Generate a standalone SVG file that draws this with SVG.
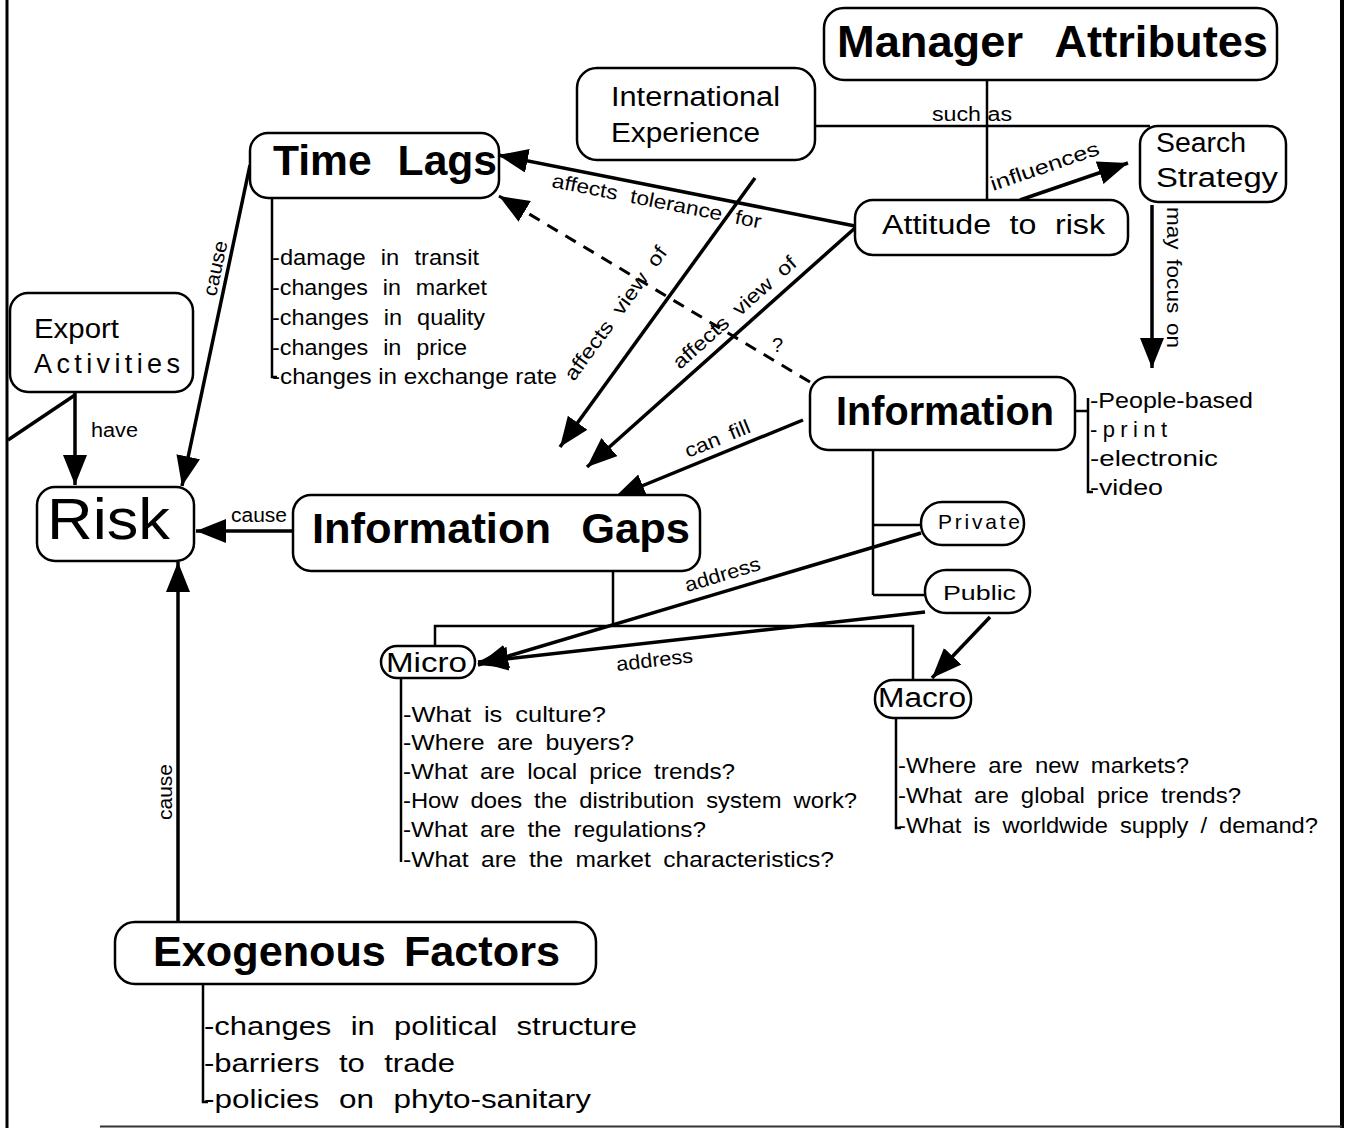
<svg xmlns="http://www.w3.org/2000/svg" width="1347" height="1128" viewBox="0 0 1347 1128">
<defs>
<marker id="ah" markerUnits="userSpaceOnUse" markerWidth="32" markerHeight="26" refX="30" refY="12" orient="auto"><path d="M0,0 L30,12 L0,24 z" fill="#000"/></marker>
<style>
.box{fill:#fff;stroke:#000;stroke-width:2.5}
.t{font-family:"Liberation Sans",Arial,sans-serif;fill:#000}
.b{font-weight:bold}
.c{fill:none;stroke:#000;stroke-width:3.5}
.a{marker-end:url(#ah)}
.l{fill:none;stroke:#000;stroke-width:2.5}
.d{stroke-dasharray:12 9;stroke-width:3}
.lab{font-size:20px}
.li{font-size:22px}
.n{font-size:27px}
.w{word-spacing:8px}
.w2{word-spacing:5px}
</style>
</defs>
<rect x="0" y="0" width="1347" height="1128" fill="#fff"/>
<g id="frame">
<line x1="7" y1="0" x2="7" y2="1128" stroke="#000" stroke-width="3"/>
<line x1="1342" y1="0" x2="1342" y2="1128" stroke="#000" stroke-width="4"/>
<line x1="100" y1="1126.5" x2="1342" y2="1126.5" stroke="#333" stroke-width="2"/>
</g>
<g id="connectors">
<path class="c a" d="M250,165 L182,486"/>
<path class="c a" d="M75,392 L75,485"/>
<path class="c" d="M75,395 L8,440"/>
<path class="c a" d="M293,531 L196,531"/>
<path class="c a" d="M178,922 L178,562"/>
<path class="c a" d="M855,226 L498,155"/>
<path class="c a d" d="M810,382 L499,196"/>
<path class="c a" d="M755,178 L560,447"/>
<path class="c a" d="M855,228 L587,467"/>
<path class="c a" d="M803,420 L615,497"/>
<path class="c a" d="M1020,200 L1128,163"/>
<path class="c a" d="M1152,205 L1152,368"/>
<path class="c a" d="M921,533 L478,665"/>
<path class="c a" d="M925,612 L478,662"/>
<path class="c a" d="M990,617 L932,678"/>
<path class="l" d="M987,80 L987,200"/>
<path class="l" d="M815,126 L1150,126"/>
<path class="l" d="M873,450 L873,595 M873,525 L921,525 M873,595 L925,595"/>
<path class="l" d="M1075,411 L1088,411 M1088,398 L1088,492 L1093,492"/>
<path class="l" d="M613,571 L613,626 M435,646 L435,626 L913,626 L913,680"/>
<path class="l" d="M272,198 L272,377 L277,377"/>
<path class="l" d="M401,678 L401,862"/>
<path class="l" d="M896,718 L896,828 L901,828"/>
<path class="l" d="M203,984 L203,1102 L208,1102"/>
<text class="t lab" x="932" y="121" textLength="80" lengthAdjust="spacingAndGlyphs">such as</text>
<text class="t lab" transform="translate(993,191) rotate(-18.9)" textLength="114" lengthAdjust="spacingAndGlyphs">influences</text>
<text class="t lab" transform="translate(551,187) rotate(11.2)" word-spacing="6" textLength="213" lengthAdjust="spacingAndGlyphs">affects tolerance for</text>
<text class="t lab" transform="translate(574,382) rotate(-54)" word-spacing="5" textLength="160" lengthAdjust="spacingAndGlyphs">affects view of</text>
<text class="t lab" transform="translate(680,370) rotate(-41.7)" word-spacing="5" textLength="158" lengthAdjust="spacingAndGlyphs">affects view of</text>
<text class="t lab" x="772" y="352">?</text>
<text class="t lab" transform="translate(688,458) rotate(-22.3)" word-spacing="4" textLength="69" lengthAdjust="spacingAndGlyphs">can fill</text>
<text class="t lab" transform="translate(687,592) rotate(-16.6)" textLength="78" lengthAdjust="spacingAndGlyphs">address</text>
<text class="t lab" transform="translate(617,671) rotate(-6.4)" textLength="77" lengthAdjust="spacingAndGlyphs">address</text>
<text class="t lab" transform="translate(216,297) rotate(-78)" textLength="56" lengthAdjust="spacingAndGlyphs">cause</text>
<text class="t lab" transform="translate(172,820) rotate(-90)" textLength="56" lengthAdjust="spacingAndGlyphs">cause</text>
<text class="t lab" transform="translate(1167,207) rotate(90)" word-spacing="3" textLength="141" lengthAdjust="spacingAndGlyphs">may focus on</text>
<text class="t lab" x="91" y="437" textLength="47" lengthAdjust="spacingAndGlyphs">have</text>
<text class="t lab" x="231" y="522" textLength="56" lengthAdjust="spacingAndGlyphs">cause</text>
</g>
<g id="manager-attributes">
<rect class="box" x="824" y="8" width="453" height="72" rx="20"/>
<text class="t b" x="837" y="57" font-size="44" word-spacing="20" textLength="431" lengthAdjust="spacingAndGlyphs">Manager Attributes</text>
</g>
<g id="international-experience">
<rect class="box" x="577" y="68" width="238" height="92" rx="20"/>
<text class="t n" x="611" y="106" textLength="169" lengthAdjust="spacingAndGlyphs">International</text>
<text class="t n" x="611" y="142" textLength="149" lengthAdjust="spacingAndGlyphs">Experience</text>
</g>
<g id="time-lags">
<rect class="box" x="250" y="133" width="249" height="65" rx="18"/>
<text class="t b" x="273" y="175" font-size="42" word-spacing="14" textLength="224" lengthAdjust="spacingAndGlyphs">Time Lags</text>
<text class="t li w" x="272" y="265" textLength="207" lengthAdjust="spacingAndGlyphs">-damage in transit</text>
<text class="t li w" x="272" y="295" textLength="215" lengthAdjust="spacingAndGlyphs">-changes in market</text>
<text class="t li w" x="272" y="325" textLength="213" lengthAdjust="spacingAndGlyphs">-changes in quality</text>
<text class="t li w" x="272" y="355" textLength="195" lengthAdjust="spacingAndGlyphs">-changes in price</text>
<text class="t li" x="272" y="384" textLength="285" lengthAdjust="spacingAndGlyphs">-changes in exchange rate</text>
</g>
<g id="search-strategy">
<rect class="box" x="1140" y="126" width="146" height="76" rx="18"/>
<text class="t n" x="1156" y="152" textLength="90" lengthAdjust="spacingAndGlyphs">Search</text>
<text class="t n" x="1156" y="187" textLength="122" lengthAdjust="spacingAndGlyphs">Strategy</text>
</g>
<g id="attitude-to-risk">
<rect class="box" x="855" y="200" width="273" height="55" rx="18"/>
<text class="t n" x="882" y="234" word-spacing="8" textLength="223" lengthAdjust="spacingAndGlyphs">Attitude to risk</text>
</g>
<g id="export-activities">
<rect class="box" x="10" y="293" width="183" height="99" rx="18"/>
<text class="t n" x="34" y="338" textLength="85" lengthAdjust="spacingAndGlyphs">Export</text>
<text class="t n" x="34" y="373" textLength="146">Activities</text>
</g>
<g id="risk">
<rect class="box" x="37" y="487" width="157" height="74" rx="18"/>
<text class="t" x="47" y="539" font-size="57" textLength="123" lengthAdjust="spacingAndGlyphs">Risk</text>
</g>
<g id="information-gaps">
<rect class="box" x="293" y="495" width="407" height="76" rx="18"/>
<text class="t b" x="312" y="543" font-size="43" word-spacing="18" textLength="378" lengthAdjust="spacingAndGlyphs">Information Gaps</text>
</g>
<g id="information">
<rect class="box" x="810" y="377" width="265" height="73" rx="18"/>
<text class="t b" x="836" y="425" font-size="40" textLength="218" lengthAdjust="spacingAndGlyphs">Information</text>
<text class="t li" x="1090" y="408" textLength="163" lengthAdjust="spacingAndGlyphs">-People-based</text>
<text class="t li" x="1090" y="437" textLength="77">-print</text>
<text class="t li" x="1090" y="466" textLength="128" lengthAdjust="spacingAndGlyphs">-electronic</text>
<text class="t li" x="1090" y="495" textLength="73" lengthAdjust="spacingAndGlyphs">-video</text>
</g>
<g id="private">
<rect class="box" x="921" y="502" width="103" height="43" rx="21"/>
<text class="t" x="938" y="529" font-size="21" textLength="82">Private</text>
</g>
<g id="public">
<rect class="box" x="925" y="570" width="105" height="43" rx="21"/>
<text class="t" x="943" y="600" font-size="21" textLength="73" lengthAdjust="spacingAndGlyphs">Public</text>
</g>
<g id="micro">
<rect class="box" x="381" y="646" width="94" height="32" rx="16"/>
<text class="t n" x="386" y="672" textLength="81" lengthAdjust="spacingAndGlyphs">Micro</text>
<text class="t li w2" x="403" y="722" textLength="203" lengthAdjust="spacingAndGlyphs">-What is culture?</text>
<text class="t li w2" x="403" y="750" textLength="231" lengthAdjust="spacingAndGlyphs">-Where are buyers?</text>
<text class="t li w2" x="403" y="779" textLength="332" lengthAdjust="spacingAndGlyphs">-What are local price trends?</text>
<text class="t li w2" x="403" y="808" textLength="454" lengthAdjust="spacingAndGlyphs">-How does the distribution system work?</text>
<text class="t li w2" x="403" y="837" textLength="303" lengthAdjust="spacingAndGlyphs">-What are the regulations?</text>
<text class="t li w2" x="403" y="867" textLength="431" lengthAdjust="spacingAndGlyphs">-What are the market characteristics?</text>
</g>
<g id="macro">
<rect class="box" x="875" y="680" width="96" height="38" rx="18"/>
<text class="t n" x="878" y="707" textLength="88" lengthAdjust="spacingAndGlyphs">Macro</text>
<text class="t li w2" x="898" y="773" textLength="291" lengthAdjust="spacingAndGlyphs">-Where are new markets?</text>
<text class="t li w2" x="898" y="803" textLength="343" lengthAdjust="spacingAndGlyphs">-What are global price trends?</text>
<text class="t li w2" x="898" y="833" textLength="420" lengthAdjust="spacingAndGlyphs">-What is worldwide supply / demand?</text>
</g>
<g id="exogenous-factors">
<rect class="box" x="115" y="922" width="481" height="62" rx="20"/>
<text class="t b" x="153" y="966" font-size="43" word-spacing="6" textLength="407" lengthAdjust="spacingAndGlyphs">Exogenous Factors</text>
<text class="t" x="204" y="1035" font-size="26" word-spacing="9" textLength="433" lengthAdjust="spacingAndGlyphs">-changes in political structure</text>
<text class="t" x="204" y="1072" font-size="26" word-spacing="9" textLength="251" lengthAdjust="spacingAndGlyphs">-barriers to trade</text>
<text class="t" x="204" y="1108" font-size="26" word-spacing="9" textLength="387" lengthAdjust="spacingAndGlyphs">-policies on phyto-sanitary</text>
</g>
</svg>
